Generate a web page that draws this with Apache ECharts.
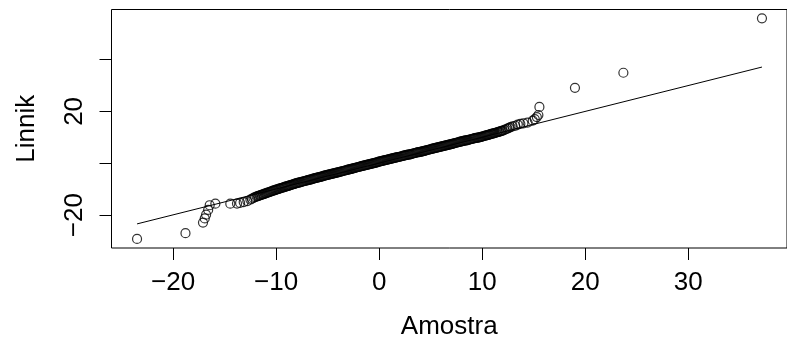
<!DOCTYPE html>
<html><head><meta charset="utf-8">
<script src="https://cdn.jsdelivr.net/npm/echarts@6/dist/echarts.min.js"></script>
<style>html,body{margin:0;padding:0;background:#fff}#c{width:787px;height:345px}</style>
</head><body><div id="c"></div>
<script>
// Sample quantiles (x, "Amostra") and Linnik quantiles (y, "Linnik")
const sampleQuantiles = [
  -23.5,-18.8,-17.1,-16.93,-16.8,-16.6,-16.45,-15.9,-14.45,-13.8,-13.5,-13.15,-12.8,-12.5,-12.35,-12.2,-12.05,
  -11.9,-11.8,-11.7,-11.6,-11.5,-11.4,-11.3,-11.2,-11.1,-11.0,-10.9,-10.8,-10.7,-10.6,-10.5,-10.4,-10.3,-10.2,-10.1,-10.0,
  -9.9,-9.8,-9.7,-9.6,-9.5,-9.4,-9.3,-9.2,-9.1,-9.0,-8.9,-8.8,-8.7,-8.6,-8.5,-8.4,-8.3,-8.2,-8.1,-8.0,
  -7.9,-7.8,-7.7,-7.6,-7.5,-7.4,-7.3,-7.2,-7.1,-7.0,-6.9,-6.8,-6.7,-6.6,-6.5,-6.4,-6.3,-6.2,-6.1,-6.0,
  -5.9,-5.8,-5.7,-5.6,-5.5,-5.4,-5.3,-5.2,-5.1,-5.0,
  -4.9,-4.8,-4.7,-4.6,-4.5,-4.4,-4.3,-4.2,-4.1,-4.0,-3.9,-3.8,-3.7,-3.6,-3.5,-3.4,-3.3,-3.2,-3.1,-3.0,
  -2.9,-2.8,-2.7,-2.6,-2.5,-2.4,-2.3,-2.2,-2.1,-2.0,-1.9,-1.8,-1.7,-1.6,-1.5,-1.4,-1.3,-1.2,-1.1,-1.0,
  -0.9,-0.8,-0.7,-0.6,-0.5,-0.4,-0.3,-0.2,-0.1,0.0,
  0.1,0.2,0.3,0.4,0.5,0.6,0.7,0.8,0.9,1.0,1.1,1.2,1.3,1.4,1.5,1.6,1.7,1.8,1.9,2.0,
  2.1,2.2,2.3,2.4,2.5,2.6,2.7,2.8,2.9,3.0,3.1,3.2,3.3,3.4,3.5,3.6,3.7,3.8,3.9,4.0,
  4.1,4.2,4.3,4.4,4.5,4.6,4.7,4.8,4.9,5.0,
  5.1,5.2,5.3,5.4,5.5,5.6,5.7,5.8,5.9,6.0,6.1,6.2,6.3,6.4,6.5,6.6,6.7,6.8,6.9,7.0,
  7.1,7.2,7.3,7.4,7.5,7.6,7.7,7.8,7.9,8.0,
  8.1,8.2,8.3,8.4,8.5,8.6,8.7,8.8,8.9,9.0,9.1,9.2,9.3,9.4,9.5,9.6,9.7,9.8,9.9,10.0,
  10.1,10.2,10.3,10.4,10.5,10.6,10.7,10.8,10.9,11.0,11.1,11.2,11.3,11.4,11.5,11.6,11.7,11.8,11.9,12.0,
  12.15,12.3,12.45,12.6,12.75,
  12.95,13.2,13.45,13.7,14.0,14.4,14.9,15.1,15.3,15.45,15.55,19.0,23.7,37.15
];
const linnikQuantiles = [
  -29.2,-27.0,-22.9,-21.3,-19.85,-18.0,-16.2,-15.6,-15.6,-15.55,-15.3,-15.0,-14.6,-14.0,-13.7,-13.4,-13.1,
  -12.85,-12.7,-12.6,-12.45,-12.3,-12.15,-12.0,-11.9,-11.75,-11.6,-11.45,-11.3,-11.2,-11.05,-10.9,-10.75,-10.6,-10.5,-10.35,-10.2,
  -10.05,-9.95,-9.8,-9.7,-9.55,-9.45,-9.3,-9.2,-9.05,-8.95,-8.8,-8.7,-8.55,-8.45,-8.3,-8.2,-8.05,-7.95,-7.8,-7.7,
  -7.6,-7.5,-7.4,-7.3,-7.15,-7.05,-6.95,-6.85,-6.75,-6.65,-6.5,-6.4,-6.3,-6.2,-6.1,-5.95,-5.85,-5.75,-5.65,-5.55,
  -5.45,-5.35,-5.25,-5.15,-5.05,-4.9,-4.8,-4.7,-4.6,-4.5,
  -4.4,-4.3,-4.2,-4.1,-4.0,-3.9,-3.8,-3.7,-3.6,-3.5,-3.4,-3.3,-3.2,-3.1,-3.0,-2.9,-2.8,-2.7,-2.6,-2.45,
  -2.35,-2.25,-2.15,-2.05,-1.95,-1.85,-1.75,-1.65,-1.55,-1.45,-1.35,-1.25,-1.15,-1.05,-0.95,-0.85,-0.75,-0.65,-0.55,-0.45,
  -0.35,-0.25,-0.15,-0.05,0.05,0.15,0.25,0.35,0.5,0.6,
  0.7,0.8,0.9,1.0,1.1,1.2,1.3,1.35,1.45,1.55,1.65,1.75,1.85,1.95,2.05,2.15,2.25,2.35,2.4,2.5,
  2.6,2.7,2.8,2.9,3.0,3.1,3.2,3.3,3.35,3.45,3.55,3.65,3.75,3.85,3.95,4.05,4.15,4.25,4.3,4.4,
  4.5,4.6,4.7,4.8,4.9,5.0,5.1,5.2,5.3,5.4,
  5.5,5.6,5.7,5.8,5.9,6.0,6.1,6.2,6.3,6.4,6.5,6.6,6.7,6.8,6.9,7.0,7.1,7.2,7.3,7.4,
  7.5,7.6,7.7,7.8,7.9,8.0,8.1,8.2,8.3,8.4,
  8.5,8.6,8.7,8.8,8.85,8.95,9.05,9.15,9.25,9.35,9.45,9.55,9.65,9.75,9.8,9.9,10.0,10.1,10.2,10.3,
  10.4,10.5,10.65,10.75,10.85,10.95,11.05,11.2,11.3,11.4,11.5,11.65,11.75,11.85,12.0,12.1,12.2,12.35,12.45,12.6,
  12.85,13.1,13.35,13.65,13.95,
  14.2,14.45,14.9,15.2,15.4,15.7,16.4,17.0,17.8,18.6,21.7,29.1,34.9,55.9
];
// Reference line end points
const lineX = [-23.5, 37.15];
const lineY = [-23.4, 37.1];
// Axis ticks and labels
const xTicks = [-20, -10, 0, 10, 20, 30];
const yTicks = [-20, 0, 20, 40];
const yTickLabels = [-20, 20];
const xTitle = 'Amostra';
const yTitle = 'Linnik';

const fmt = v => (v < 0 ? '\u2212' + Math.abs(v) : String(v));
const points = sampleQuantiles.map((x, i) => [x, linnikQuantiles[i]]);
const FONT = 'Liberation Sans';

const chart = echarts.init(document.getElementById('c'), null, { renderer: 'canvas' });
chart.setOption({
  animation: false,
  backgroundColor: '#fff',
  grid: { left: 111.5, top: 9.5, width: 681, height: 238.5, show: true, borderColor: '#000', borderWidth: 1, backgroundColor: 'transparent' },
  xAxis: {
    type: 'value', min: -25.98, max: 39.58,
    axisLine: { show: false, onZero: false },
    splitLine: { show: false },
    axisTick: { show: true, inside: false, length: 12, customValues: xTicks, lineStyle: { color: '#000', width: 1 } },
    axisLabel: { customValues: xTicks, formatter: fmt, margin: 22, color: '#000', fontSize: 26, fontFamily: FONT },
    name: xTitle, nameLocation: 'middle', nameGap: 66,
    nameTextStyle: { color: '#000', fontSize: 26, fontFamily: FONT }
  },
  yAxis: {
    type: 'value', min: -32.7, max: 59.3,
    axisLine: { show: false, onZero: false },
    splitLine: { show: false },
    axisTick: { show: true, inside: false, length: 12, customValues: yTicks, lineStyle: { color: '#000', width: 1 } },
    axisLabel: { customValues: yTickLabels, formatter: fmt, rotate: 90, margin: 24, color: '#000', fontSize: 26, fontFamily: FONT },
    name: yTitle, nameLocation: 'middle', nameGap: 72, nameRotate: 90,
    nameTextStyle: { color: '#000', fontSize: 26, fontFamily: FONT }
  },
  series: [
    {
      type: 'scatter',
      data: points,
      symbol: 'circle',
      symbolSize: 9,
      itemStyle: { color: 'rgba(0,0,0,0)', borderColor: '#000', borderWidth: 1.2 },
      silent: true,
      z: 2
    },
    {
      type: 'line',
      data: lineX.map((x, i) => [x, lineY[i]]),
      showSymbol: false,
      symbol: 'none',
      lineStyle: { color: '#000', width: 1 },
      silent: true,
      z: 3
    }
  ]
});
</script>
</body></html>
